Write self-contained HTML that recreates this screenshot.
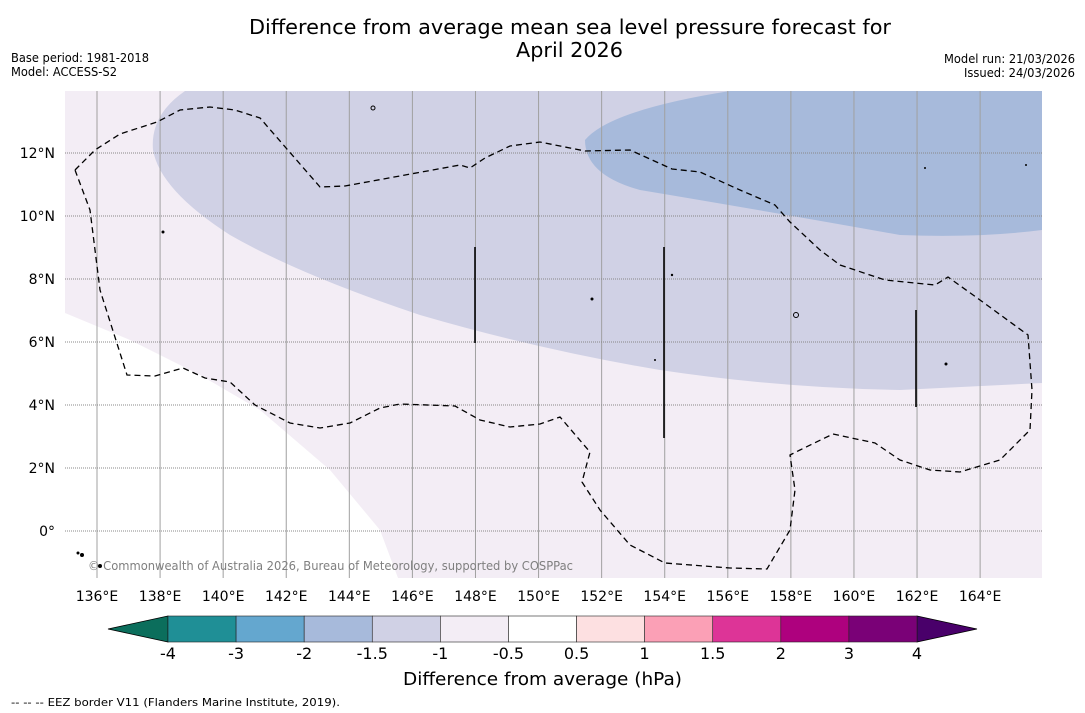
<!DOCTYPE html>
<html><head><meta charset="utf-8"><style>
body{margin:0;background:#fff;width:1085px;height:713px;overflow:hidden;font-family:"DejaVu Sans","Liberation Sans",sans-serif}
svg{position:absolute;left:0;top:0}
</style></head><body>
<svg width="1085" height="713">
<text x="249" y="34" font-size="20" textLength="642" lengthAdjust="spacingAndGlyphs">Difference from average mean sea level pressure forecast for</text>
<text x="516" y="57" font-size="20" textLength="107" lengthAdjust="spacingAndGlyphs">April 2026</text>
<text x="11" y="62" font-size="12" textLength="138" lengthAdjust="spacingAndGlyphs">Base period: 1981-2018</text>
<text x="11" y="76" font-size="12" textLength="106" lengthAdjust="spacingAndGlyphs">Model: ACCESS-S2</text>
<text x="944" y="63" font-size="12" textLength="131" lengthAdjust="spacingAndGlyphs">Model run: 21/03/2026</text>
<text x="964" y="77" font-size="12" textLength="111" lengthAdjust="spacingAndGlyphs">Issued: 24/03/2026</text>
<defs><clipPath id="mc"><rect x="65" y="91" width="977" height="487"/></clipPath></defs>
<g clip-path="url(#mc)">
<rect x="65" y="91" width="977" height="487" fill="#f3edf5"/>
<path d="M65,313 L130,340 L200,375 L260,410 L330,470 L380,530 L398,578 L65,578Z" fill="#ffffff"/>
<path d="M185,91 Q150,115 153,150 Q160,190 230,235 Q300,275 420,315 Q540,350 660,370 Q780,388 900,390 L1042,383 L1042,91Z" fill="#d0d1e5"/>
<path d="M730,91 Q610,110 585,140 Q585,175 640,190 Q760,210 900,235 Q980,238 1042,230 L1042,91Z" fill="#a7badb"/>
<g id="grid"></g>
<path d="M75,170 L95,150 L120,134 L157,122 L180,110 L210,107 L235,110 L260,118 L320,187 L345,186 L460,165 L470,168 L485,158 L510,146 L540,142 L585,151 L630,150 L672,169 L700,172 L740,190 L775,205 L790,222 L820,250 L840,265 L885,280 L935,285 L948,277 L980,300 L1028,335 L1032,390 L1030,430 L1000,460 L960,472 L930,470 L900,460 L875,443 L833,434 L800,450 L790,455 L795,490 L790,530 L767,569 L730,568 L665,563 L630,545 L600,510 L582,482 L590,452 L560,417 L540,424 L510,427 L480,420 L455,406 L400,404 L380,408 L350,423 L320,428 L290,423 L255,405 L230,382 L205,378 L183,368 L155,376 L127,375 L100,290 L90,210Z" fill="none" stroke="#000" stroke-width="1.3" stroke-dasharray="6,4"/>
<g stroke="#000" stroke-width="1.6">
<line x1="475" y1="247" x2="475" y2="343"/><line x1="664" y1="247" x2="664" y2="438"/><line x1="916" y1="310" x2="916" y2="407"/>
</g>
<g fill="#000">
<circle cx="373" cy="108" r="2" fill="none" stroke="#000"/><circle cx="163" cy="232" r="1.5"/><circle cx="796" cy="315" r="2.5" fill="none" stroke="#000"/><circle cx="592" cy="299" r="1.5"/><circle cx="946" cy="364" r="1.5"/><circle cx="672" cy="275" r="1.2"/><circle cx="82" cy="555" r="2"/><circle cx="100" cy="566" r="2"/><circle cx="78" cy="553" r="1.5"/><circle cx="1026" cy="165" r="1"/><circle cx="925" cy="168" r="1"/><circle cx="655" cy="360" r="1"/>
</g>
<text x="88" y="570" font-size="12" fill="#7f7f7f" textLength="485" lengthAdjust="spacingAndGlyphs">© Commonwealth of Australia 2026, Bureau of Meteorology, supported by COSPPac</text>
</g>
<g id="axes"></g>
<g id="cbar"></g>
<text x="403" y="685" font-size="18" textLength="279" lengthAdjust="spacingAndGlyphs">Difference from average (hPa)</text>
<text x="11" y="706" font-size="11" textLength="329" lengthAdjust="spacingAndGlyphs">--  --  -- EEZ border V11 (Flanders Marine Institute, 2019).</text>
</svg>
<script>
const lonTicks=[136,138,140,142,144,146,148,150,152,154,156,158,160,162,164];
const latTicks=[0,2,4,6,8,10,12];
const cbBounds=["-4","-3","-2","-1.5","-1","-0.5","0.5","1","1.5","2","3","4"];
const cbColors=["#1f8f96","#64a7cf","#a7badb","#d0d1e5","#f3edf5","#ffffff","#fde0e1","#fba0b6","#dd3497","#ae017e","#7a0177"];
const NS="http://www.w3.org/2000/svg";
function xl(l){return 97+(l-136)*31.54;}
function yl(l){return 531-l*31.5;}
function mk(t,a,p){const e=document.createElementNS(NS,t);for(const k in a)e.setAttribute(k,a[k]);p.appendChild(e);return e;}
const g=document.getElementById('grid'),ax=document.getElementById('axes'),cb=document.getElementById('cbar');
lonTicks.forEach(l=>{const e=mk('line',{x1:xl(l),x2:xl(l),y1:91,y2:578,stroke:'#a0a0a0','stroke-width':1},g);


const t=mk('text',{x:xl(l),y:601,'font-size':14,'text-anchor':'middle'},ax);t.textContent=l+'°E';

});
latTicks.forEach(l=>{const e=mk('line',{x1:65,x2:1042,y1:yl(l),y2:yl(l),stroke:'#888','stroke-width':1,'stroke-dasharray':'1,1'},g);


const t=mk('text',{x:55,y:yl(l)+5,'font-size':14,'text-anchor':'end'},ax);t.textContent=l===0?'0°':l+'°N';

});
const x0=168,x1=917,w=(x1-x0)/cbColors.length,y0=616,h=26;
const lt=mk('polygon',{points:`108,${y0+h/2} ${x0},${y0} ${x0},${y0+h}`,fill:'#0b6e5c',stroke:'#000','stroke-width':0.8},cb);


const rt=mk('polygon',{points:`${x1},${y0} 977,${y0+h/2} ${x1},${y0+h}`,fill:'#49006a',stroke:'#000','stroke-width':0.8},cb);


cbColors.forEach((c,i)=>{const r=mk('rect',{x:x0+i*w,y:y0,width:w,height:h,fill:c,stroke:'#222','stroke-width':0.6},cb);

});
cbBounds.forEach((b,i)=>{const t=mk('text',{x:x0+i*w,y:659,'font-size':16,'text-anchor':'middle'},cb);t.textContent=b;

});
</script>
</body></html>
